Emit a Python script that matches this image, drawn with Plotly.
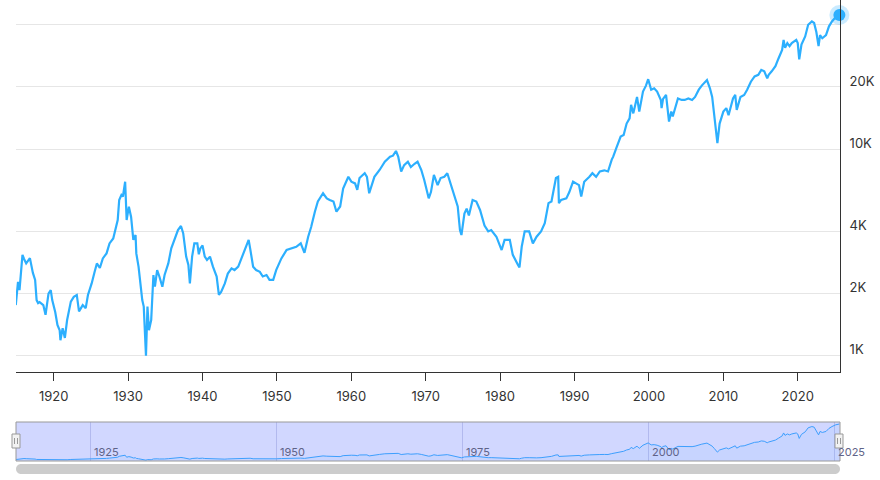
import math
import plotly.graph_objects as go

# ---- data (decimal year, inflation-adjusted index level) ----
years = [
    1914.9, 1915.2, 1915.4, 1915.8, 1916.0, 1916.3, 1916.8, 1917.0, 1917.2, 1917.5,
    1917.7, 1917.9, 1918.1, 1918.6, 1918.9, 1919.3, 1919.6, 1919.8, 1920.2, 1920.5,
    1920.8, 1920.9, 1921.2, 1921.5, 1921.8, 1922.3, 1922.7, 1923.1, 1923.4, 1923.9,
    1924.3, 1924.6, 1925.1, 1925.5, 1925.8, 1926.2, 1926.6, 1927.1, 1927.5, 1928.0,
    1928.3, 1928.6, 1928.8, 1929.1, 1929.3, 1929.6, 1929.8, 1930.1, 1930.4, 1930.7,
    1931.0, 1931.1, 1931.4, 1931.6, 1931.9, 1932.1, 1932.4, 1932.6, 1932.8, 1933.1,
    1933.4, 1933.6, 1933.9, 1934.2, 1934.6, 1934.9, 1935.4, 1935.8, 1936.3, 1936.7,
    1937.1, 1937.4, 1937.8, 1938.1, 1938.3, 1938.6, 1938.9, 1939.3, 1939.5, 1939.7,
    1940.0, 1940.3, 1940.6, 1941.0, 1941.4, 1941.9, 1942.2, 1942.5, 1943.0, 1943.4,
    1943.9, 1944.3, 1944.8, 1945.2, 1945.7, 1946.0, 1946.2, 1946.4, 1946.8, 1947.2,
    1947.7, 1948.1, 1948.6, 1949.0, 1949.5, 1949.9, 1950.6, 1951.3, 1951.9, 1952.6,
    1953.2, 1953.7, 1954.2, 1954.6, 1955.1, 1955.5, 1956.2, 1956.7, 1957.1, 1957.6,
    1958.0, 1958.5, 1958.9, 1959.6, 1960.0, 1960.5, 1960.8, 1961.1, 1961.8, 1962.1,
    1962.4, 1962.7, 1963.1, 1963.8, 1964.5, 1965.2, 1965.6, 1966.0, 1966.3, 1966.7,
    1967.1, 1967.6, 1968.0, 1968.5, 1968.9, 1969.4, 1969.8, 1970.4, 1970.7, 1971.1,
    1971.6, 1972.0, 1972.5, 1972.9, 1973.4, 1973.8, 1974.3, 1974.6, 1974.8, 1975.2,
    1975.5, 1975.8, 1976.3, 1976.8, 1977.3, 1977.9, 1978.4, 1978.8, 1979.5, 1980.2,
    1980.6, 1981.3, 1981.7, 1982.4, 1982.6, 1982.9, 1983.3, 1983.9, 1984.4, 1984.9,
    1985.5, 1986.0, 1986.2, 1986.5, 1986.9, 1987.5, 1987.8, 1987.9, 1988.2, 1988.9,
    1989.3, 1989.8, 1990.2, 1990.6, 1990.9, 1991.3, 1992.0, 1992.4, 1992.9, 1993.4,
    1994.0, 1994.5, 1995.0, 1995.2, 1995.6, 1996.2, 1996.6, 1997.0, 1997.4, 1997.6,
    1997.9, 1998.4, 1998.7, 1999.2, 1999.6, 1999.9, 2000.3, 2000.7, 2001.1, 2001.6,
    2001.7, 2001.9, 2002.3, 2002.7, 2003.0, 2003.2, 2003.9, 2004.4, 2004.8, 2005.3,
    2005.8, 2006.2, 2006.7, 2007.1, 2007.8, 2008.2, 2008.5, 2008.8, 2009.0, 2009.2,
    2009.5, 2010.0, 2010.4, 2010.7, 2011.3, 2011.6, 2011.8, 2012.3, 2012.8, 2013.2,
    2013.7, 2014.2, 2014.7, 2015.1, 2015.5, 2015.9, 2016.1, 2016.5, 2017.0, 2017.4,
    2017.9, 2018.1, 2018.3, 2018.6, 2018.9, 2019.2, 2019.8, 2020.0, 2020.2, 2020.5,
    2021.0, 2021.4, 2021.9, 2022.2, 2022.5, 2022.8, 2023.0, 2023.3, 2023.8, 2024.2,
    2024.6, 2025.1, 2025.6,
]
values = [
    1760, 2280, 2080, 3080, 2950, 2800, 2970, 2660, 2520, 2330,
    1860, 1800, 1820, 1760, 1580, 2000, 2080, 1860, 1630, 1410,
    1330, 1190, 1360, 1220, 1490, 1830, 1930, 1970, 1640, 1760,
    1700, 1970, 2240, 2550, 2800, 2660, 2960, 3130, 3500, 3700,
    4060, 4540, 5680, 6000, 5900, 6960, 4540, 5270, 4700, 3640,
    3840, 3130, 2700, 2240, 1860, 1730, 1000, 1730, 1330, 1490,
    2460, 2160, 2600, 2420, 2160, 2460, 2800, 3310, 3700, 4060,
    4250, 3920, 3020, 2750, 2240, 3020, 3500, 3500, 3100, 3310,
    3420, 3020, 2910, 3020, 2700, 2420, 1970, 2040, 2240, 2500,
    2650, 2600, 2700, 2960, 3250, 3560, 3640, 3310, 2700, 2600,
    2550, 2420, 2460, 2330, 2330, 2600, 2960, 3250, 3310, 3370,
    3500, 3150, 3770, 4200, 4980, 5580, 6120, 5780, 5680, 5580,
    4980, 5280, 6450, 7350, 6960, 6830, 6350, 7250, 7650, 7350,
    6120, 6700, 7350, 7930, 8700, 9200, 9300, 9800, 9200, 7800,
    8370, 8700, 8200, 8500, 8700, 7930, 7090, 5780, 6200, 7500,
    6700, 7250, 7350, 7650, 6700, 6120, 5280, 4060, 3840, 4880,
    5150, 4780, 5680, 5580, 5080, 4270, 4000, 4060, 3770, 3250,
    3640, 3640, 3080, 2750, 2680, 3370, 4000, 4000, 3500, 3770,
    4000, 4380, 4880, 5480, 5580, 7250, 7350, 5480, 5680, 5780,
    6200, 6960, 6830, 6700, 5900, 6960, 7350, 7650, 7350, 7800,
    7900, 7800, 8900, 9200, 10100, 11500, 11700, 13300, 14100, 16400,
    14900, 17900, 15200, 19000, 20300, 21800, 19400, 19700, 19000, 17300,
    15800, 17500, 18300, 13600, 15200, 14400, 17600, 17300, 17300, 17600,
    17300, 17900, 19400, 20300, 21600, 19700, 17900, 14900, 12400, 10700,
    13300, 15200, 15800, 14600, 17600, 18300, 15500, 17900, 18300, 19400,
    21200, 22500, 22900, 24200, 23800, 22000, 22900, 23800, 25200, 27400,
    30200, 33800, 30900, 32600, 31500, 32600, 33800, 32600, 27200, 32100,
    35100, 40000, 41500, 40800, 36900, 31500, 35600, 34400, 35600, 39300,
    41500, 43600, 44600,
]

x_tickvals = [1920, 1930, 1940, 1950, 1960, 1970, 1980, 1990, 2000, 2010, 2020]
y_tickvals = [1000, 2000, 4000, 10000, 20000, 40000]
y_ticktext = ["1K", "2K", "4K", "10K", "20K", ""]
nav_ticks = [1925, 1950, 1975, 2000, 2025]

# ---- layout geometry (pixels) ----
W, H = 880, 480
ML, MR = 16, 40
PW = W - ML - MR
X_RANGE = [1914.93, 2025.68]


def pxx(x):
    return (x - ML) / PW


def pyy(y):
    return 1 - y / H


LINE = "#2caffe"
FONT = "Inter, Roboto, Arial, sans-serif"

fig = go.Figure()
fig.add_trace(go.Scatter(x=years, y=values, mode="lines",
                         line=dict(color=LINE, width=2.2), xaxis="x", yaxis="y",
                         hoverinfo="skip"))
fig.add_trace(go.Scatter(x=[years[-1]], y=[values[-1]], mode="markers",
                         marker=dict(size=20, color="rgba(44,175,254,0.25)"),
                         cliponaxis=False, xaxis="x", yaxis="y", hoverinfo="skip"))
fig.add_trace(go.Scatter(x=[years[-1]], y=[values[-1]], mode="markers",
                         marker=dict(size=12, color=LINE),
                         cliponaxis=False, xaxis="x", yaxis="y", hoverinfo="skip"))
# navigator series
fig.add_trace(go.Scatter(x=years, y=values, mode="lines",
                         line=dict(color="#3d9ffe", width=1),
                         fill="tozeroy", fillcolor="rgba(44,175,254,0.06)",
                         xaxis="x2", yaxis="y2", hoverinfo="skip"))

nav_top, nav_bot = 422, 461
shapes = [
    dict(type="rect", xref="paper", yref="paper", x0=0, x1=1,
         y0=pyy(nav_bot), y1=pyy(nav_top), fillcolor="#d1d7ff",
         line=dict(width=0), layer="below"),
    dict(type="rect", xref="paper", yref="paper", x0=0, x1=1,
         y0=pyy(nav_bot), y1=pyy(nav_top), fillcolor="rgba(0,0,0,0)",
         line=dict(width=1, color="#999999"), layer="above"),
]

# scrollbar (rounded bar)
sb_t, sb_b, sb_l, sb_r, r = 464, 474, 16, 840, 5
k = 0.55 * r
pts = [
    ("M", [(sb_l + r, sb_t)]),
    ("L", [(sb_r - r, sb_t)]),
    ("C", [(sb_r - r + k, sb_t), (sb_r, sb_t + r - k), (sb_r, sb_t + r)]),
    ("C", [(sb_r, sb_b - r + k), (sb_r - r + k, sb_b), (sb_r - r, sb_b)]),
    ("L", [(sb_l + r, sb_b)]),
    ("C", [(sb_l + r - k, sb_b), (sb_l, sb_b - r + k), (sb_l, sb_b - r)]),
    ("C", [(sb_l, sb_t + r - k), (sb_l + r - k, sb_t), (sb_l + r, sb_t)]),
]
path = ""
for cmd, pp in pts:
    path += cmd + " " + " ".join(f"{pxx(a):.5f},{pyy(b):.5f}" for a, b in pp) + " "
path += "Z"
shapes.append(dict(type="path", xref="paper", yref="paper", path=path,
                   fillcolor="#cccccc", line=dict(width=0), layer="above"))

# handles
for cx in (16, 839):
    shapes.append(dict(type="rect", xref="paper", yref="paper",
                       x0=pxx(cx - 4), x1=pxx(cx + 4), y0=pyy(448), y1=pyy(434),
                       fillcolor="#f2f2f2", line=dict(width=1, color="#999999"),
                       layer="above"))
    for dx in (-1.5, 1.5):
        shapes.append(dict(type="line", xref="paper", yref="paper",
                           x0=pxx(cx + dx), x1=pxx(cx + dx), y0=pyy(444), y1=pyy(438),
                           line=dict(width=1, color="#999999"), layer="above"))

annotations = []
for t in nav_ticks:
    annotations.append(dict(x=t, xref="x2", y=pyy(nav_bot), yref="paper",
                            xanchor="left", yanchor="bottom", xshift=1,
                            text=str(t), showarrow=False,
                            font=dict(size=11, color="#5f6388", family=FONT)))

fig.update_layout(
    width=W, height=H,
    margin=dict(l=ML, r=MR, t=0, b=0, autoexpand=False),
    paper_bgcolor="white", plot_bgcolor="rgba(0,0,0,0)",
    showlegend=False,
    font=dict(family=FONT, size=13, color="#333333"),
    xaxis=dict(domain=[0, 1], anchor="y", range=X_RANGE, tickvals=x_tickvals,
               showline=True, linecolor="#333333", linewidth=1,
               ticks="outside", ticklen=8, tickcolor="#333333",
               showgrid=False, zeroline=False, ticklabelstandoff=4,
               tickfont=dict(size=13, color="#333333"), automargin=False),
    yaxis=dict(domain=[pyy(372), 1], anchor="x", type="log",
               range=[math.log10(835), math.log10(52700)], side="right",
               showline=True, linecolor="#333333", linewidth=1,
               tickvals=y_tickvals, ticktext=y_ticktext,
               gridcolor="#e6e6e6", ticks="", zeroline=False,
               ticklabelshift=-6, ticklabelstandoff=6,
               tickfont=dict(size=13, color="#333333"), automargin=False),
    xaxis2=dict(domain=[0, 1], anchor="y2", range=X_RANGE, tickvals=nav_ticks,
                showgrid=True, gridcolor="rgba(120,130,205,0.35)",
                showticklabels=False, ticks="", zeroline=False, showline=False),
    yaxis2=dict(domain=[pyy(nav_bot), pyy(nav_top)], anchor="x2",
                range=[0, 47000], showgrid=False, showticklabels=False,
                ticks="", zeroline=False, showline=False),
    shapes=shapes,
    annotations=annotations,
)

fig.write_html("out.html")
